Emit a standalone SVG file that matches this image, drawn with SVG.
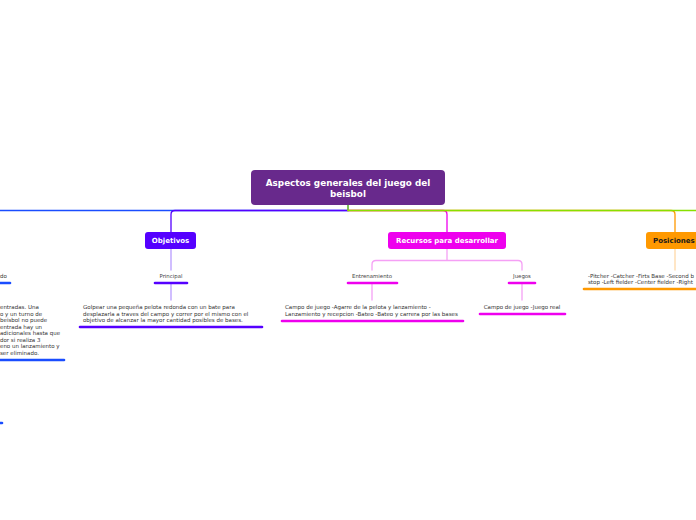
<svg xmlns="http://www.w3.org/2000/svg" width="696" height="520" viewBox="0 0 696 520">
<style>
.c{fill:none;stroke-width:1.3;stroke-linecap:round}
.lt{font-family:"DejaVu Sans",Verdana,sans-serif;font-size:5.5px;fill:#333}
.lb{font-family:"DejaVu Sans",Verdana,sans-serif;font-size:5.4px;fill:#444;text-anchor:middle}
.nt{font-family:"DejaVu Sans",Verdana,sans-serif;font-size:7px;font-weight:bold;fill:#fff;text-anchor:middle}
.bar{stroke-width:2.6;stroke-linecap:round;fill:none}
</style>
<rect width="696" height="520" fill="#fff"/>
<g id="connectors">
<path class="c" stroke="#1a4dff" d="M348,205 V210.5 H-5"/>
<path class="c" stroke="#5500ff" d="M348,210.5 H175 Q171,210.5 171,214.5 V232"/>
<path class="c" stroke="#ee00ee" d="M348,210.5 H443 Q447,210.5 447,214.5 V232"/>
<path class="c" stroke="#ff9900" d="M348,210.5 H671 Q675,210.5 675,214.5 V232"/>
<path class="c" stroke="#88e000" d="M348,205 V210.5 H700"/>
<path class="c" stroke="#b89cff" d="M171,249 V270 M171,284 V300"/>
<path class="c" stroke="#f5a0f5" d="M447,249 V260.5 M376,260.5 H518 Q522,260.5 522,264.5 V270 M376,260.5 Q372,260.5 372,264.5 V270 M372,284 V300 M522,284 V300"/>
<path class="c" stroke="#ffd9a8" d="M675,249 V270"/>
</g>
<g id="center">
<rect x="251" y="170" width="194" height="35" rx="4" fill="#68298c"/>
<text class="nt" x="348" y="186" style="font-size:8.8px">Aspectos generales del juego del</text>
<text class="nt" x="348" y="197" style="font-size:8.8px">beisbol</text>
</g>
<g id="objetivos">
<rect x="145" y="232" width="51" height="17" rx="3" fill="#5500ff"/>
<text class="nt" x="170.5" y="243">Objetivos</text>
</g>
<g id="principal">
<text class="lb" x="171" y="278">Principal</text>
<line class="bar" stroke="#5500ff" x1="155" y1="283" x2="187" y2="283"/>
</g>
<g id="principal-text">
<text class="lt" x="83" y="309">Golpear una pequeña pelota redonda con un bate para</text>
<text class="lt" x="83" y="315.5">desplazarla a traves del campo y correr por el mismo con el</text>
<text class="lt" x="83" y="322">objetivo de alcanzar la mayor cantidad posibles de bases.</text>
<line class="bar" stroke="#5500ff" x1="80" y1="327" x2="262" y2="327"/>
</g>
<g id="left-branch">
<text class="lt" x="0" y="278">do</text>
<line class="bar" stroke="#1a4dff" x1="-5" y1="283" x2="10" y2="283"/>
<text class="lt" x="0" y="309">entradas. Una</text>
<text class="lt" x="0" y="315.5">o y un turno de</text>
<text class="lt" x="0" y="322">beisbol no puede</text>
<text class="lt" x="0" y="328.5">entrada hay un</text>
<text class="lt" x="0" y="335">adicionales hasta que</text>
<text class="lt" x="0" y="341.5">dor si realiza 3</text>
<text class="lt" x="0" y="348">eno un lanzamiento y</text>
<text class="lt" x="0" y="354.5">ser eliminado.</text>
<line class="bar" stroke="#1a4dff" x1="-5" y1="360" x2="64" y2="360"/>
<line class="bar" stroke="#1a4dff" x1="-5" y1="423" x2="2" y2="423"/>
</g>
<g id="recursos">
<rect x="388" y="232" width="118" height="17" rx="3" fill="#ee00ee"/>
<text class="nt" x="447" y="243">Recursos para desarrollar</text>
</g>
<g id="entrenamiento">
<text class="lb" x="372" y="278">Entrenamiento</text>
<line class="bar" stroke="#ee00ee" x1="348" y1="283" x2="397" y2="283"/>
<text class="lt" x="285" y="309">Campo de juego -Agarre de la pelota y lanzamiento -</text>
<text class="lt" x="285" y="315.5">Lanzamiento y recepcion -Bateo -Bateo y carrera por las bases</text>
<line class="bar" stroke="#ee00ee" x1="282" y1="321" x2="463" y2="321"/>
</g>
<g id="juegos">
<text class="lb" x="522" y="278">Juegos</text>
<line class="bar" stroke="#ee00ee" x1="509" y1="283" x2="535" y2="283"/>
<text class="lb" x="522" y="309" style="fill:#333;font-size:5.5px">Campo de juego -Juego real</text>
<line class="bar" stroke="#ee00ee" x1="480" y1="314" x2="565" y2="314"/>
</g>
<g id="posiciones">
<rect x="646" y="232" width="60" height="17" rx="3" fill="#ff9900"/>
<text class="nt" x="653" y="243" style="fill:#1a1a1a;text-anchor:start">Posiciones</text>
<text class="lt" x="588" y="277.5">-Pitcher -Catcher -Firts Base -Second b</text>
<text class="lt" x="588" y="284">stop -Left fielder -Center fielder -Right</text>
<line class="bar" stroke="#ff9900" x1="584" y1="289" x2="700" y2="289"/>
</g>
</svg>
